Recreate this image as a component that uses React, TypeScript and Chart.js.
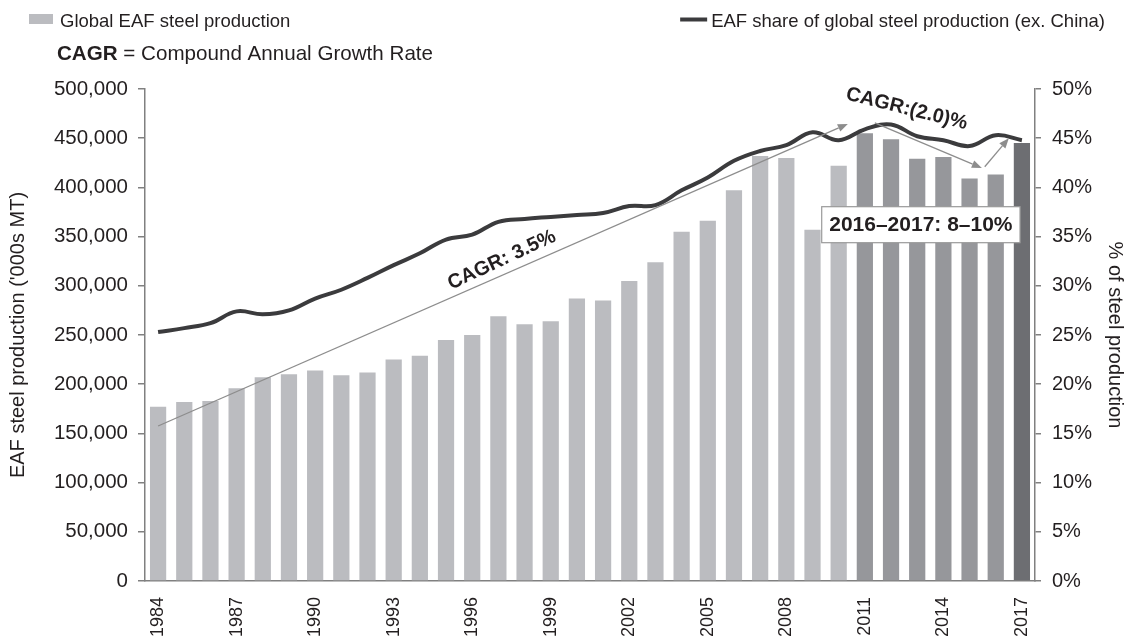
import React, { useEffect, useRef } from "react";
import { Chart, registerables } from "chart.js";

Chart.register(...registerables);

const FONT = "'Liberation Sans', Arial, Helvetica, sans-serif";
Chart.defaults.font.family = FONT;

// ---- data ----
const years = [
  1984, 1985, 1986, 1987, 1988, 1989, 1990, 1991, 1992, 1993,
  1994, 1995, 1996, 1997, 1998, 1999, 2000, 2001, 2002, 2003,
  2004, 2005, 2006, 2007, 2008, 2009, 2010, 2011, 2012, 2013,
  2014, 2015, 2016, 2017,
];

// Global EAF steel production ('000s MT)
const eafProduction = [
  177000, 182000, 183000, 196000, 207000, 210000, 214000, 209000, 212000, 225000,
  229000, 245000, 250000, 269000, 261000, 264000, 287000, 285000, 305000, 324000,
  355000, 366000, 397000, 432000, 430000, 357000, 422000, 455000, 449000, 429000,
  431000, 409000, 413000, 445000,
];

// EAF share of global steel production ex. China (%)
const eafShare = [
  25.3, 25.7, 26.2, 27.4, 27.1, 27.5, 28.7, 29.6, 30.8, 32.1,
  33.3, 34.7, 35.2, 36.5, 36.8, 37.0, 37.2, 37.4, 38.1, 38.2,
  39.7, 41.0, 42.7, 43.7, 44.3, 45.6, 44.8, 45.9, 46.4, 45.2,
  44.8, 44.2, 45.3, 44.8,
];

const xLabelYears = [1984, 1987, 1990, 1993, 1996, 1999, 2002, 2005, 2008, 2011, 2014, 2017];

const leftAxisMax = 500000;
const leftAxisStep = 50000;
const rightAxisMax = 50;
const rightAxisStep = 5;

// annotation anchors in data coordinates: [category index, left-axis value]
const cagrArrows = [
  { from: [0, 157500], to: [26.35, 464500] },
  { from: [27.38, 465500], to: [31.47, 419700] },
  { from: [31.58, 421000], to: [32.5, 449900] },
];
const cagrNotes = [
  { text: "CAGR: 3.5%", at: [13.13, 326200], angle: -25 },
  { text: "CAGR:(2.0)%", at: [28.6, 479700], angle: 14 },
];
const boxNote = { text: "2016\u20132017: 8\u201310%", at: [29.14, 362100] };

const LIGHT = "#bbbcc0";
const MID = "#96979b";
const DARK = "#6d6e72";
const LINE = "#3b3b3d";
const TEXT = "#231f20";
const AXIS = "#808080";

const barColors = years.map((yr) => (yr === 2017 ? DARK : yr >= 2011 ? MID : LIGHT));

function drawArrow(ctx: CanvasRenderingContext2D, x1: number, y1: number, x2: number, y2: number) {
  const ang = Math.atan2(y2 - y1, x2 - x1);
  const head = 10;
  const half = 4;
  ctx.strokeStyle = "#8d8d8d";
  ctx.fillStyle = "#8d8d8d";
  ctx.lineWidth = 1.3;
  ctx.beginPath();
  ctx.moveTo(x1, y1);
  ctx.lineTo(x2 - head * Math.cos(ang), y2 - head * Math.sin(ang));
  ctx.stroke();
  ctx.beginPath();
  ctx.moveTo(x2, y2);
  ctx.lineTo(
    x2 - head * Math.cos(ang) + half * Math.sin(ang),
    y2 - head * Math.sin(ang) - half * Math.cos(ang)
  );
  ctx.lineTo(
    x2 - head * Math.cos(ang) - half * Math.sin(ang),
    y2 - head * Math.sin(ang) + half * Math.cos(ang)
  );
  ctx.closePath();
  ctx.fill();
}

const annotationPlugin = {
  id: "eafAnnotations",
  afterDatasetsDraw(chart: any) {
    const { ctx } = chart;
    const xs = chart.scales.x;
    const ys = chart.scales.y;
    const px = (i: number) => xs.getPixelForValue(i);
    const py = (v: number) => ys.getPixelForValue(v);
    ctx.save();
    for (const a of cagrArrows) {
      drawArrow(ctx, px(a.from[0]), py(a.from[1]), px(a.to[0]), py(a.to[1]));
    }
    for (const n of cagrNotes) {
      ctx.save();
      ctx.translate(px(n.at[0]), py(n.at[1]));
      ctx.rotate((n.angle * Math.PI) / 180);
      ctx.font = `bold 20px ${FONT}`;
      ctx.fillStyle = TEXT;
      ctx.textAlign = "center";
      ctx.textBaseline = "middle";
      ctx.fillText(n.text, 0, 0);
      ctx.restore();
    }
    // boxed note
    const bx = px(boxNote.at[0]);
    const by = py(boxNote.at[1]);
    ctx.font = `bold 21px ${FONT}`;
    const tw = ctx.measureText(boxNote.text).width;
    const w = tw + 15;
    const h = 36;
    ctx.fillStyle = "#ffffff";
    ctx.fillRect(bx - w / 2, by - h / 2, w, h);
    ctx.strokeStyle = "#9a9a9a";
    ctx.lineWidth = 1.2;
    ctx.strokeRect(bx - w / 2, by - h / 2, w, h);
    ctx.fillStyle = TEXT;
    ctx.textAlign = "center";
    ctx.textBaseline = "middle";
    ctx.fillText(boxNote.text, bx, by + 1);
    ctx.restore();
  },
  afterDraw(chart: any) {
    const { ctx } = chart;
    ctx.save();
    // legend: bars
    ctx.fillStyle = LIGHT;
    ctx.fillRect(29, 14, 24, 10);
    ctx.fillStyle = TEXT;
    ctx.font = `18.5px ${FONT}`;
    ctx.textAlign = "left";
    ctx.textBaseline = "alphabetic";
    ctx.fillText("Global EAF steel production", 60, 27);
    // legend: line
    const lineText = "EAF share of global steel production (ex. China)";
    const ltw = ctx.measureText(lineText).width;
    const lx = 1105 - ltw;
    ctx.strokeStyle = LINE;
    ctx.lineWidth = 4;
    ctx.beginPath();
    ctx.moveTo(lx - 31, 19.5);
    ctx.lineTo(lx - 4, 19.5);
    ctx.stroke();
    ctx.fillText(lineText, lx, 27);
    // CAGR definition
    ctx.font = `bold 20.6px ${FONT}`;
    ctx.fillText("CAGR", 57, 60);
    const cw = ctx.measureText("CAGR").width;
    ctx.font = `20.6px ${FONT}`;
    ctx.fillText(" = Compound Annual Growth Rate", 57 + cw, 60);
    ctx.restore();
  },
};

export default function App() {
  const canvasRef = useRef<HTMLCanvasElement | null>(null);

  useEffect(() => {
    if (!canvasRef.current) return;
    const chart = new Chart(canvasRef.current, {
      type: "bar",
      data: {
        labels: years.map(String),
        datasets: [
          {
            type: "line",
            label: "EAF share of global steel production (ex. China)",
            data: eafShare,
            yAxisID: "y1",
            borderColor: LINE,
            borderWidth: 4,
            pointRadius: 0,
            tension: 0.4,
            fill: false,
            order: 0,
          } as any,
          {
            type: "bar",
            label: "Global EAF steel production",
            data: eafProduction,
            yAxisID: "y",
            backgroundColor: barColors,
            borderWidth: 0,
            categoryPercentage: 1,
            barPercentage: 0.62,
            order: 1,
          },
        ],
      },
      options: {
        responsive: false,
        animation: false,
        devicePixelRatio: 1,
        layout: { padding: { top: 89, left: 0, right: 0, bottom: 0 } },
        plugins: {
          legend: { display: false },
          tooltip: { enabled: false },
          title: { display: false },
        },
        scales: {
          x: {
            type: "category",
            offset: true,
            grid: { display: false, drawTicks: false },
            border: { display: true, color: AXIS, width: 1.5 },
            ticks: {
              autoSkip: false,
              maxRotation: 90,
              minRotation: 90,
              padding: 16,
              color: TEXT,
              font: { size: 18 },
              callback: (_v: any, i: number) =>
                xLabelYears.includes(years[i]) ? String(years[i]) : "",
            },
            afterFit: (s: any) => {
              s.height = 60;
            },
          },
          y: {
            position: "left",
            min: 0,
            max: leftAxisMax,
            grid: {
              drawOnChartArea: false,
              drawTicks: true,
              tickLength: 7,
              color: AXIS,
              lineWidth: 1.5,
            },
            border: { display: true, color: AXIS, width: 1.5 },
            ticks: {
              stepSize: leftAxisStep,
              padding: 10,
              color: TEXT,
              font: { size: 20.5 },
              callback: (v: any) => Number(v).toLocaleString("en-US"),
            },
            title: {
              display: true,
              text: "EAF steel production ('000s MT)",
              color: TEXT,
              font: { size: 20 },
              padding: { top: 6, bottom: 0 },
            },
            afterFit: (s: any) => {
              s.width = 145;
            },
          },
          y1: {
            position: "right",
            min: 0,
            max: rightAxisMax,
            grid: {
              drawOnChartArea: false,
              drawTicks: true,
              tickLength: 6,
              color: AXIS,
              lineWidth: 1.5,
            },
            border: { display: true, color: AXIS, width: 1.5 },
            ticks: {
              stepSize: rightAxisStep,
              padding: 11,
              color: TEXT,
              font: { size: 20 },
              callback: (v: any) => `${v}%`,
            },
            title: {
              display: true,
              text: "% of steel production",
              color: TEXT,
              font: { size: 20 },
              padding: { top: 0, bottom: 0 },
            },
            afterFit: (s: any) => {
              s.width = 92;
            },
          },
        },
      } as any,
      plugins: [annotationPlugin as any],
    });
    return () => chart.destroy();
  }, []);

  return (
    <div style={{ position: "absolute", left: 0, top: 0, width: 1127, height: 641, background: "#fff" }}>
      <canvas ref={canvasRef} width={1127} height={641} style={{ display: "block" }} />
    </div>
  );
}
